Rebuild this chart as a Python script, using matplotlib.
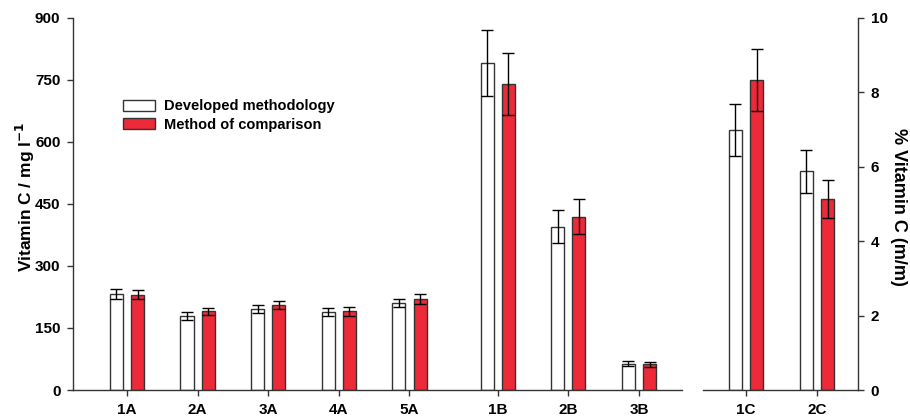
import matplotlib.pyplot as plt
import numpy as np

plt.rcParams['font.family'] = ['Liberation Sans', 'DejaVu Sans']
plt.rcParams['font.weight'] = 'bold'

# samples on the mg/l scale
samples_ab = ['1A', '2A', '3A', '4A', '5A', '1B', '2B', '3B']
pos_ab = [0, 1, 2, 3, 4, 5.25, 6.25, 7.25]
dev_ab = [231, 179, 195, 189, 211, 790, 395, 64]
dev_ab_err = [12, 9, 10, 9, 10, 80, 40, 6]
cmp_ab = [230, 190, 206, 190, 220, 740, 419, 62]
cmp_ab_err = [11, 9, 10, 10, 11, 75, 43, 6]

# samples on the % (m/m) scale
samples_c = ['1C', '2C']
pos_c = [0, 1]
dev_c = [6.98, 5.87]
dev_c_err = [0.69, 0.58]
cmp_c = [8.32, 5.12]
cmp_c_err = [0.83, 0.51]

red = '#EC2A38'
w = 0.185
off = 0.15

fig = plt.figure(figsize=(9.1, 4.2), dpi=100)
ax1 = fig.add_axes([0.0802, 0.0714, 0.6693, 0.8869])
ax2 = fig.add_axes([0.7725, 0.0714, 0.1704, 0.8869])


def draw_pairs(ax, pos, dev, dev_err, cmp, cmp_err):
    pos = np.array(pos)
    ekw = dict(elinewidth=1.0, capthick=1.0, ecolor='black')
    ax.bar(pos - off, dev, w, color='white', edgecolor='#333333', linewidth=1.0,
           yerr=dev_err, capsize=4.5, error_kw=ekw, label='Developed methodology', zorder=2)
    ax.bar(pos + off, cmp, w, color=red, edgecolor='#333333', linewidth=1.0,
           yerr=cmp_err, capsize=4.5, error_kw=ekw, label='Method of comparison', zorder=2)


draw_pairs(ax1, pos_ab, dev_ab, dev_ab_err, cmp_ab, cmp_ab_err)
draw_pairs(ax2, pos_c, dev_c, dev_c_err, cmp_c, cmp_c_err)

ax1.set_xlim(-0.765, 7.86)
ax1.set_ylim(0, 900)
ax1.set_yticks([0, 150, 300, 450, 600, 750, 900])
ax1.set_xticks(pos_ab)
ax1.set_xticklabels(samples_ab)
ax1.spines['top'].set_visible(False)
ax1.spines['right'].set_visible(False)

ax2.set_xlim(-0.606, 1.577)
ax2.set_ylim(0, 10)
ax2.set_yticks([0, 2, 4, 6, 8, 10])
ax2.set_xticks(pos_c)
ax2.set_xticklabels(samples_c)
ax2.spines['top'].set_visible(False)
ax2.spines['left'].set_visible(False)
ax2.yaxis.tick_right()

for ax in (ax1, ax2):
    for s in ax.spines.values():
        s.set_linewidth(1.0)
        s.set_color('#333333')
    ax.tick_params(direction='out', length=4, width=1.0, color='#333333', labelsize=11, pad=5)
    for lab in ax.get_xticklabels() + ax.get_yticklabels():
        lab.set_fontweight('bold')

# axis titles
fig.text(25 / 910, 1 - 197 / 420, r'Vitamin C / mg l$^{\mathbf{-1}}$', rotation=90,
         ha='center', va='center', fontsize=12.5, fontweight='bold')
fig.text(899 / 910, 1 - 207 / 420, '% Vitamin C (m/m)', rotation=270,
         ha='center', va='center', fontsize=13, fontweight='bold')

ax1.legend(loc='upper left', bbox_to_anchor=(0.0816, 0.78), frameon=False,
           borderaxespad=0, borderpad=0,
           handlelength=2.25, handleheight=0.75, handletextpad=0.6, labelspacing=0.3,
           prop={'weight': 'bold', 'size': 10.5})

fig.savefig('out.png', dpi=100)
